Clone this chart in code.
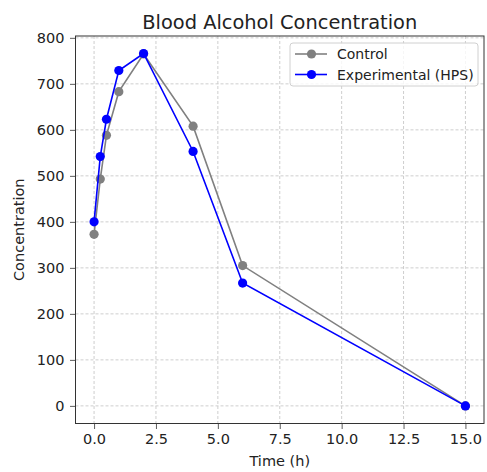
<!DOCTYPE html>
<html>
<head>
<meta charset="utf-8">
<script src="https://cdn.jsdelivr.net/npm/d3@7"></script>
<style>
	body { margin: 0; background: #fff; }
	text { font-family: 'DejaVu Sans', sans-serif; fill: #222; }
</style>
</head>
<body>
<div id="chart_div"></div>
<script>
var times = [0, 0.25, 0.5, 1, 2, 4, 6, 15];
var control_values = [373, 493, 588, 683, 765, 608, 305, 0];
var hps_values = [400, 542, 623, 729, 766, 553, 267, 0];
var x_ticks = [0, 2.5, 5, 7.5, 10, 12.5, 15];
var y_ticks = [0, 100, 200, 300, 400, 500, 600, 700, 800];
var series_names = ['Control', 'Experimental (HPS)'];

function draw_chart() {
	var width = 487;
	var height = 472;
	var margin = { left: 75.5, right: 3, top: 36, bottom: 48.5 };
	var tick_font = 14.5;

	var svg = d3
		.select('#chart_div')
		.append('svg')
		.attr('width', width)
		.attr('height', height);

	var x = d3
		.scaleLinear()
		.domain([-0.75, 15.75])
		.range([margin.left, width - margin.right]);
	var y = d3
		.scaleLinear()
		.domain([-38.3, 804])
		.range([height - margin.bottom, margin.top]);

	// grid
	var grid = svg.append('g').attr('class', 'grid');
	grid.selectAll('.vgrid')
		.data(x_ticks)
		.enter()
		.append('line')
		.attr('x1', (d) => x(d))
		.attr('x2', (d) => x(d))
		.attr('y1', margin.top)
		.attr('y2', height - margin.bottom)
		.attr('stroke', '#c8c8c8')
		.attr('stroke-width', 0.9)
		.attr('stroke-dasharray', '3,2');
	grid.selectAll('.hgrid')
		.data(y_ticks)
		.enter()
		.append('line')
		.attr('x1', margin.left)
		.attr('x2', width - margin.right)
		.attr('y1', (d) => y(d))
		.attr('y2', (d) => y(d))
		.attr('stroke', '#c8c8c8')
		.attr('stroke-width', 0.9)
		.attr('stroke-dasharray', '3,2');

	// axes
	var x_axis = d3
		.axisBottom(x)
		.tickValues(x_ticks)
		.tickFormat(d3.format('.1f'))
		.tickSize(5.5)
		.tickPadding(5);
	var y_axis = d3
		.axisLeft(y)
		.tickValues(y_ticks)
		.tickSize(5.5)
		.tickPadding(5.5);

	var gx = svg
		.append('g')
		.attr('transform', 'translate(0,' + (height - margin.bottom) + ')')
		.call(x_axis);
	var gy = svg
		.append('g')
		.attr('transform', 'translate(' + margin.left + ',0)')
		.call(y_axis);
	[gx, gy].forEach(function (g) {
		g.select('.domain').remove();
		g.selectAll('.tick line').attr('stroke', '#333').attr('stroke-width', 0.8);
		g.selectAll('.tick text')
			.attr('font-size', tick_font)
			.attr('font-family', 'DejaVu Sans, sans-serif')
			.attr('fill', '#222');
	});

	// frame
	svg.append('rect')
		.attr('x', margin.left)
		.attr('y', margin.top)
		.attr('width', width - margin.left - margin.right)
		.attr('height', height - margin.top - margin.bottom)
		.attr('fill', 'none')
		.attr('stroke', '#333')
		.attr('stroke-width', 1);

	var line = d3
		.line()
		.x((d) => x(d[0]))
		.y((d) => y(d[1]));

	var series = [
		{ name: series_names[0], values: control_values, colour: '#808080' },
		{ name: series_names[1], values: hps_values, colour: '#0000ff' },
	];

	series.forEach(function (s) {
		var pts = times.map((t, i) => [t, s.values[i]]);
		svg.append('path')
			.datum(pts)
			.attr('d', line)
			.attr('fill', 'none')
			.attr('stroke', s.colour)
			.attr('stroke-width', 1.6);
		svg.selectAll(null)
			.data(pts)
			.enter()
			.append('circle')
			.attr('cx', (d) => x(d[0]))
			.attr('cy', (d) => y(d[1]))
			.attr('r', 4.6)
			.attr('fill', s.colour);
	});

	// legend
	var legend = svg.append('g').attr('transform', 'translate(290,43)');
	legend.append('rect')
		.attr('width', 188)
		.attr('height', 43)
		.attr('rx', 3)
		.attr('fill', 'white')
		.attr('fill-opacity', 0.8)
		.attr('stroke', '#d0d0d0');
	series.forEach(function (s, i) {
		var ly = 11 + i * 20.5;
		legend.append('line')
			.attr('x1', 5)
			.attr('x2', 37)
			.attr('y1', ly)
			.attr('y2', ly)
			.attr('stroke', s.colour)
			.attr('stroke-width', 1.6);
		legend.append('circle')
			.attr('cx', 21.5)
			.attr('cy', ly)
			.attr('r', 4.6)
			.attr('fill', s.colour);
		legend.append('text')
			.attr('x', 47)
			.attr('y', ly + 5)
			.attr('font-size', 14)
			.text(s.name);
	});

	// titles
	svg.append('text')
		.attr('x', (margin.left + width - margin.right) / 2)
		.attr('y', 29)
		.attr('text-anchor', 'middle')
		.attr('font-size', 19.4)
		.text('Blood Alcohol Concentration');

	svg.append('text')
		.attr('x', (margin.left + width - margin.right) / 2)
		.attr('y', height - 6)
		.attr('text-anchor', 'middle')
		.attr('font-size', 14.5)
		.text('Time (h)');

	svg.append('text')
		.attr('transform', 'translate(24,' + (margin.top + height - margin.bottom) / 2 + ') rotate(-90)')
		.attr('text-anchor', 'middle')
		.attr('font-size', 14.5)
		.text('Concentration');
}

draw_chart();
</script>
</body>
</html>
